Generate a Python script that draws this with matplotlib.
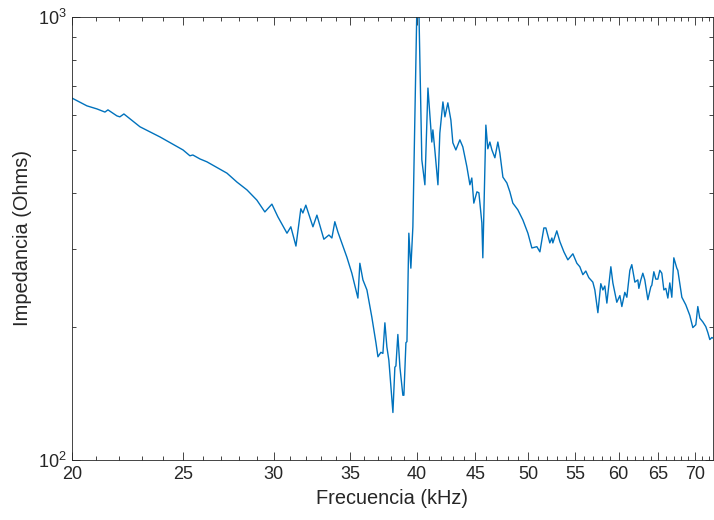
import numpy as np
import matplotlib
matplotlib.use("Agg")
import matplotlib.pyplot as plt
from matplotlib.ticker import FixedLocator, NullFormatter, LogLocator, FuncFormatter

# frequency (kHz) and impedance (Ohms)
freq_khz = [
    20.00, 20.61, 21.03, 21.37, 21.50, 21.89, 22.02, 22.20, 22.93, 23.87,
    25.00, 25.35, 25.50, 25.87, 26.23, 27.31, 27.86, 28.43, 29.00, 29.47,
    29.89, 30.25, 30.81, 31.05, 31.37, 31.68, 31.81, 32.00, 32.46, 32.72,
    33.18, 33.52, 33.72, 33.92, 34.13, 34.75, 35.10, 35.53, 35.67, 35.89,
    36.18, 36.54, 36.84, 36.99, 37.21, 37.36, 37.51, 37.66, 37.81, 38.12,
    38.27, 38.35, 38.50, 38.66, 38.89, 38.97, 39.13, 39.21, 39.36, 39.52,
    39.68, 40.00, 40.16, 40.40, 40.65, 40.90, 41.22, 41.31, 41.47, 41.73,
    41.89, 42.15, 42.32, 42.57, 42.83, 43.00, 43.26, 43.61, 43.87, 44.23,
    44.50, 44.67, 44.85, 45.13, 45.31, 45.58, 45.67, 45.95, 46.13, 46.32,
    46.51, 46.79, 47.07, 47.26, 47.55, 47.93, 48.22, 48.51, 49.00, 49.50,
    50.00, 50.40, 50.91, 51.22, 51.63, 51.84, 52.25, 52.47, 52.57, 52.99,
    53.32, 53.75, 54.18, 54.73, 55.17, 55.50, 55.84, 56.17, 56.51, 56.97,
    57.20, 57.55, 57.89, 58.13, 58.36, 58.60, 59.07, 59.31, 59.78, 60.15,
    60.39, 60.75, 61.00, 61.37, 61.61, 61.99, 62.36, 62.49, 62.74, 62.99,
    63.24, 63.63, 64.01, 64.14, 64.40, 64.66, 64.92, 65.18, 65.44, 65.71,
    65.97, 66.24, 66.50, 66.77, 67.04, 67.44, 67.58, 68.13, 68.67, 69.23,
    69.65, 70.07, 70.35, 70.63, 71.06, 71.49, 71.78, 72.07, 72.36, 72.65,
]
impedance_ohm = [
    656, 630, 620, 610, 617, 598, 595, 604, 565, 536,
    501, 486, 488, 478, 471, 444, 424, 407, 386, 363,
    378, 354, 325, 336, 304, 369, 361, 376, 336, 357,
    315, 322, 317, 345, 327, 287, 264, 232, 278, 255,
    242, 210, 184, 171, 175, 174, 204, 180, 168, 128,
    162, 163, 192, 162, 140, 140, 184, 185, 325, 271,
    336, 1050, 1050, 476, 418, 691, 522, 556, 501, 418,
    547, 643, 595, 640, 585, 520, 501, 528, 509, 459,
    418, 433, 380, 403, 401, 343, 286, 570, 504, 522,
    501, 481, 522, 493, 435, 422, 403, 380, 367, 348,
    325, 301, 303, 295, 334, 334, 309, 317, 309, 329,
    311, 295, 283, 292, 278, 273, 262, 267, 258, 252,
    242, 215, 250, 242, 247, 226, 273, 251, 227, 235,
    222, 239, 233, 268, 276, 252, 255, 244, 255, 264,
    255, 230, 246, 248, 266, 256, 256, 268, 264, 242,
    244, 232, 251, 233, 286, 271, 268, 233, 224, 212,
    199, 202, 222, 209, 205, 200, 194, 187, 189, 188,
]

x_major = [20, 25, 30, 35, 40, 45, 50, 55, 60, 65, 70]
x_minor = [f for f in range(20, 73) if f not in x_major]

line_color = "#0072BD"
axis_color = "0.15"
fontsize = 14.4
ticksize = 13

plt.rcParams["font.family"] = ["Liberation Sans", "DejaVu Sans"]

fig = plt.figure(figsize=(7.14, 5.2), dpi=100)
ax = fig.add_axes([0.1008, 0.1154, 0.8975, 0.852])

ax.plot(freq_khz, impedance_ohm, color=line_color, linewidth=1.0)

ax.set_xscale("log")
ax.set_yscale("log")
ax.set_xlim(20, 72.5)
ax.set_ylim(100, 1000)

ax.xaxis.set_major_locator(FixedLocator(x_major))
ax.xaxis.set_minor_locator(FixedLocator(x_minor))
ax.xaxis.set_major_formatter(FuncFormatter(lambda v, p: f"{v:g}"))
ax.xaxis.set_minor_formatter(NullFormatter())
ax.yaxis.set_major_locator(LogLocator(base=10))
ax.yaxis.set_minor_locator(LogLocator(base=10, subs=np.arange(2, 10)))
ax.yaxis.set_minor_formatter(NullFormatter())

ax.tick_params(which="both", direction="in", top=True, right=True,
               color=axis_color, labelcolor=axis_color, labelsize=ticksize, width=0.6)
ax.tick_params(which="major", length=6, pad=4)
ax.tick_params(which="minor", length=3)
for s in ax.spines.values():
    s.set_color(axis_color)
    s.set_linewidth(0.6)

ax.set_xlabel("Frecuencia (kHz)", fontsize=fontsize, color=axis_color, labelpad=5)
ax.set_ylabel("Impedancia (Ohms)", fontsize=fontsize, color=axis_color, labelpad=4)

fig.savefig("out.png", dpi=100)
